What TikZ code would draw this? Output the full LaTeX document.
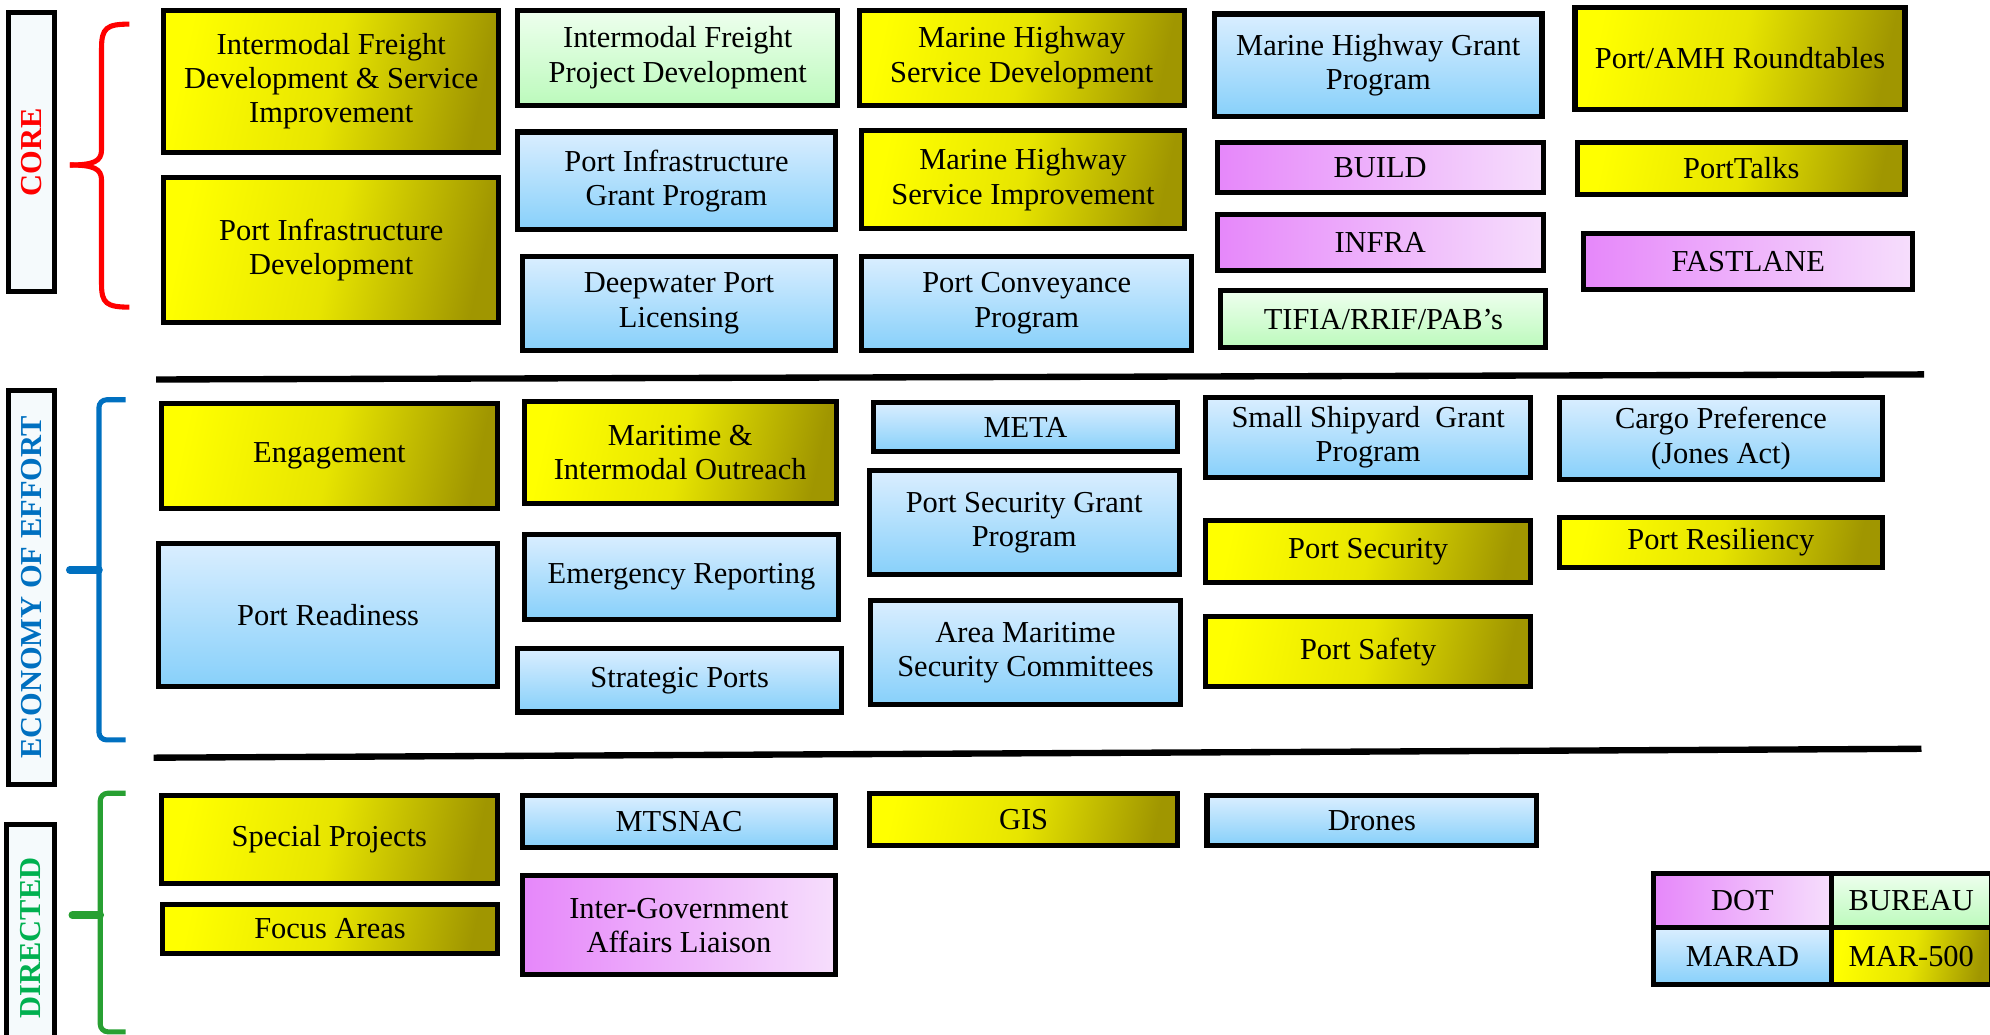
\documentclass[tikz,border=0pt]{standalone}
\usepackage{fontspec}
\setmainfont{Liberation Serif}
\usepackage{tikz}

\definecolor{ylo}{RGB}{255,255,0}
\definecolor{yhi}{RGB}{160,150,0}
\definecolor{blo}{RGB}{218,238,255}
\definecolor{bhi}{RGB}{135,208,250}
\definecolor{glo}{RGB}{238,255,238}
\definecolor{ghi}{RGB}{188,250,188}
\definecolor{mlo}{RGB}{230,135,250}
\definecolor{mhi}{RGB}{246,222,252}
\definecolor{corered}{RGB}{255,0,0}
\definecolor{effblue}{RGB}{0,112,192}
\definecolor{dirgreen}{RGB}{0,176,80}
\definecolor{bracegreen}{RGB}{40,160,50}
\definecolor{sidefill}{RGB}{245,250,252}

\begin{document}
\begin{tikzpicture}[x=0.5pt,y=-0.5pt,
        font=\fontsize{12}{13.5}\selectfont,
        box/.style = {rectangle, draw=black, line width=2pt,
            align=center, inner sep=1pt},
        ybox/.style = {box, left color=ylo, right color=yhi,
            middle color=ylo!75!yhi, shading angle=78},
        bbox/.style = {box, top color=blo, bottom color=bhi},
        gbox/.style = {box, top color=glo, bottom color=ghi},
        mbox/.style = {box, left color=mlo, right color=mhi},
        side/.style = {rectangle, draw=black, line width=2pt,
            fill=sidefill, rotate=90, inner sep=0pt,
            font=\fontsize{12}{14}\selectfont\bfseries},
        brace/.style = {line width=2pt},
        bracetip/.style = {line width=3pt, line cap=round}]

        \useasboundingbox (0,0) rectangle (1568,815);

        % Side labels
        \node[side, text=corered, minimum width=110pt, minimum height=18pt] (core) at (25,120) {CORE};
        \node[side, text=effblue, minimum width=155pt, minimum height=18pt] (effort) at (25,463) {ECONOMY OF EFFORT};
        \node[side, text=dirgreen, minimum width=89pt, minimum height=19pt] (directed) at (24,739) {DIRECTED};

        % Braces
        \draw[brace, corered] (102,19) .. controls (84,19) and (80,22) .. (80,38)
            -- (80,118) .. controls (80,127) and (74,130) .. (55,130);
        \draw[brace, corered] (55,130) .. controls (74,130) and (80,133) .. (80,142)
            -- (80,224) .. controls (80,239) and (84,242) .. (102,242);
        \draw[brace, effblue, rounded corners=3] (99,315) -- (78,315) -- (78,583) -- (99,583);
        \draw[bracetip, effblue] (78,449) -- (55,449);
        \draw[brace, bracegreen, rounded corners=3] (99,625) -- (79,625) -- (79,813) -- (99,813);
        \draw[bracetip, bracegreen] (79,721) -- (57,721);

        % Separators
        \draw[line width=2.5pt] (123,299) -- (1516,295);
        \draw[line width=2.5pt] (121,597) -- (1514,590);

        % Core
        \node[ybox, minimum width=132pt, minimum height=56pt] (ifdsi) at (261,64) {Intermodal Freight\\Development \& Service\\Improvement};
        \node[ybox, minimum width=132pt, minimum height=57pt] (pid) at (261,197) {Port Infrastructure\\Development};
        \node[gbox, minimum width=126pt, minimum height=37.5pt] (ifpd) at (534,45.5) {Intermodal Freight\\Project Development};
        \node[bbox, minimum width=125pt, minimum height=38.5pt] (pigp) at (533,142.5) {Port Infrastructure\\Grant Program};
        \node[bbox, minimum width=123pt, minimum height=37pt] (dpl) at (535,239) {Deepwater Port\\Licensing};
        \node[ybox, minimum width=128pt, minimum height=37.5pt] (mhsd) at (805,45.5) {Marine Highway\\Service Development};
        \node[ybox, minimum width=127pt, minimum height=38.5pt] (mhsi) at (806,141.5) {Marine Highway\\Service Improvement};
        \node[bbox, minimum width=130pt, minimum height=37pt] (pcp) at (809,239) {Port Conveyance\\Program};
        \node[bbox, minimum width=129pt, minimum height=40.5pt] (mhgp) at (1086,51.5) {Marine Highway Grant\\Program};
        \node[mbox, minimum width=128.5pt, minimum height=20pt] (build) at (1087.5,132) {BUILD};
        \node[mbox, minimum width=128.5pt, minimum height=22pt] (infra) at (1087.5,191) {INFRA};
        \node[gbox, minimum width=128pt, minimum height=22.5pt] (tifia) at (1090,251.5) {TIFIA/RRIF/PAB’s};
        \node[ybox, minimum width=130pt, minimum height=40pt] (amh) at (1371,46) {Port/AMH Roundtables};
        \node[ybox, minimum width=129pt, minimum height=20.5pt] (talks) at (1372,132.5) {PortTalks};
        \node[mbox, minimum width=129.5pt, minimum height=22pt] (fast) at (1377.5,206) {FASTLANE};

        % Economy of effort
        \node[ybox, minimum width=132.5pt, minimum height=41.5pt] (engage) at (259.5,359.5) {Engagement};
        \node[bbox, minimum width=133.5pt, minimum height=56.5pt] (ready) at (258.5,484.5) {Port Readiness};
        \node[ybox, minimum width=123pt, minimum height=40.5pt] (outreach) at (536,356.5) {Maritime \&\\Intermodal Outreach};
        \node[bbox, minimum width=124pt, minimum height=33.5pt] (emerg) at (537,454.5) {Emergency Reporting};
        \node[bbox, minimum width=127.5pt, minimum height=25pt] (strat) at (535.5,536) {Strategic Ports};
        \node[bbox, minimum width=120pt, minimum height=19.5pt] (meta) at (808,336.5) {META};
        \node[bbox, minimum width=122pt, minimum height=41pt] (psgp) at (807,412) {Port Security Grant\\Program};
        \node[bbox, minimum width=122pt, minimum height=41pt] (amsc) at (808,514) {Area Maritime\\Security Committees};
        \node[bbox, minimum width=128pt, minimum height=31.5pt] (ssgp) at (1078,344.5) {Small Shipyard~ Grant\\Program};
        \node[ybox, minimum width=128pt, minimum height=24.5pt] (psec) at (1078,434.5) {Port Security};
        \node[ybox, minimum width=128pt, minimum height=27.5pt] (psafe) at (1078,513.5) {Port Safety};
        \node[bbox, minimum width=127pt, minimum height=32.5pt] (cargo) at (1356,345.5) {Cargo Preference\\(Jones Act)};
        \node[ybox, minimum width=127pt, minimum height=19.5pt] (resil) at (1356,427.5) {Port Resiliency};

        % Directed
        \node[ybox, minimum width=132.5pt, minimum height=34.5pt] (special) at (259.5,661.5) {Special Projects};
        \node[ybox, minimum width=132pt, minimum height=19pt] (focus) at (260,732) {Focus Areas};
        \node[bbox, minimum width=123pt, minimum height=20.5pt] (mtsnac) at (535,647.5) {MTSNAC};
        \node[mbox, minimum width=123pt, minimum height=39pt] (igal) at (535,729) {Inter-Government\\Affairs Liaison};
        \node[ybox, minimum width=121.5pt, minimum height=20.5pt] (gis) at (806.5,645.5) {GIS};
        \node[bbox, minimum width=130pt, minimum height=19.5pt] (drones) at (1081,646.5) {Drones};

        % Legend
        \node[mbox, minimum width=70pt, minimum height=21.5pt] (dot) at (1373,709.5) {DOT};
        \node[gbox, minimum width=63pt, minimum height=21.5pt] (bureau) at (1506,709.5) {BUREAU};
        \node[bbox, minimum width=70pt, minimum height=22.5pt] (marad) at (1373,753.5) {MARAD};
        \node[ybox, minimum width=63pt, minimum height=22.5pt] (mar) at (1506,753.5) {MAR-500};

    \end{tikzpicture}
\end{document}
